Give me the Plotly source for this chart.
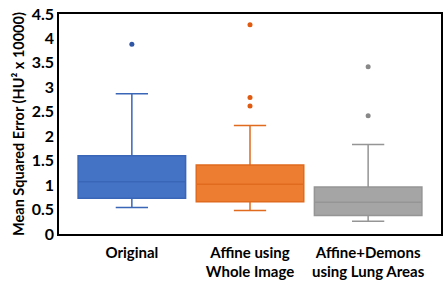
import plotly.graph_objects as go

categories = ["Original", "Affine using<br>Whole Image", "Affine+Demons<br>using Lung Areas"]
lower_whisker = [0.54, 0.48, 0.26]
q1 = [0.73, 0.66, 0.38]
median = [1.07, 1.02, 0.65]
q3 = [1.60, 1.41, 0.96]
upper_whisker = [2.87, 2.22, 1.83]
outliers = [[3.88], [4.28, 2.79, 2.62], [3.42, 2.42]]
y_ticks = [0, 0.5, 1, 1.5, 2, 2.5, 3, 3.5, 4, 4.5]
y_tick_labels = ["0", "0.5", "1", "1.5", "2", "2.5", "3", "3.5", "4", "4.5"]

fill_colors = ["#4472C4", "#ED7D31", "#A5A5A5"]
line_colors = ["#3A66B8", "#E06A1E", "#959595"]
point_colors = ["#2F55A5", "#E05A10", "#888888"]

fig = go.Figure()
for i, cat in enumerate(categories):
    fig.add_trace(go.Box(
        x=[cat], q1=[q1[i]], median=[median[i]], q3=[q3[i]],
        lowerfence=[lower_whisker[i]], upperfence=[upper_whisker[i]],
        fillcolor=fill_colors[i], line=dict(color=line_colors[i], width=1.5),
        whiskerwidth=0.3, boxpoints=False, showlegend=False, hoverinfo="skip",
        width=0.91,
    ))
    fig.add_trace(go.Scatter(
        x=[cat] * len(outliers[i]), y=outliers[i], mode="markers",
        marker=dict(color=point_colors[i], size=5), showlegend=False,
    ))

font_family = "Lato, 'Open Sans', sans-serif"
fig.update_layout(
    width=447, height=281,
    margin=dict(l=59, r=4, t=10, b=47),
    paper_bgcolor="white", plot_bgcolor="white",
    boxmode="overlay",
    font=dict(family=font_family, color="black"),
)
fig.update_xaxes(
    showline=True, linecolor="black", linewidth=1.5, mirror=True,
    showgrid=False, ticks="", ticklabelstandoff=4, automargin=False,
    tickfont=dict(size=15, family=font_family, weight="bold"),
)
fig.update_yaxes(
    range=[0, 4.5], tickmode="array", tickvals=y_ticks, ticktext=y_tick_labels,
    ticklabeloverflow="allow",
    showline=True, linecolor="black", linewidth=1.5,
    mirror=True, showgrid=False, zeroline=False, ticks="",
    tickfont=dict(size=16, family=font_family, weight="bold"),
    title=dict(text="Mean Squared Error (HU² x 10000)",
               font=dict(size=14.5, family=font_family, weight="bold"), standoff=4),
)
fig.write_html(
    "out.html",
    config={"displayModeBar": False},
    post_script="document.body.style.margin='0';document.body.style.padding='0';",
)
